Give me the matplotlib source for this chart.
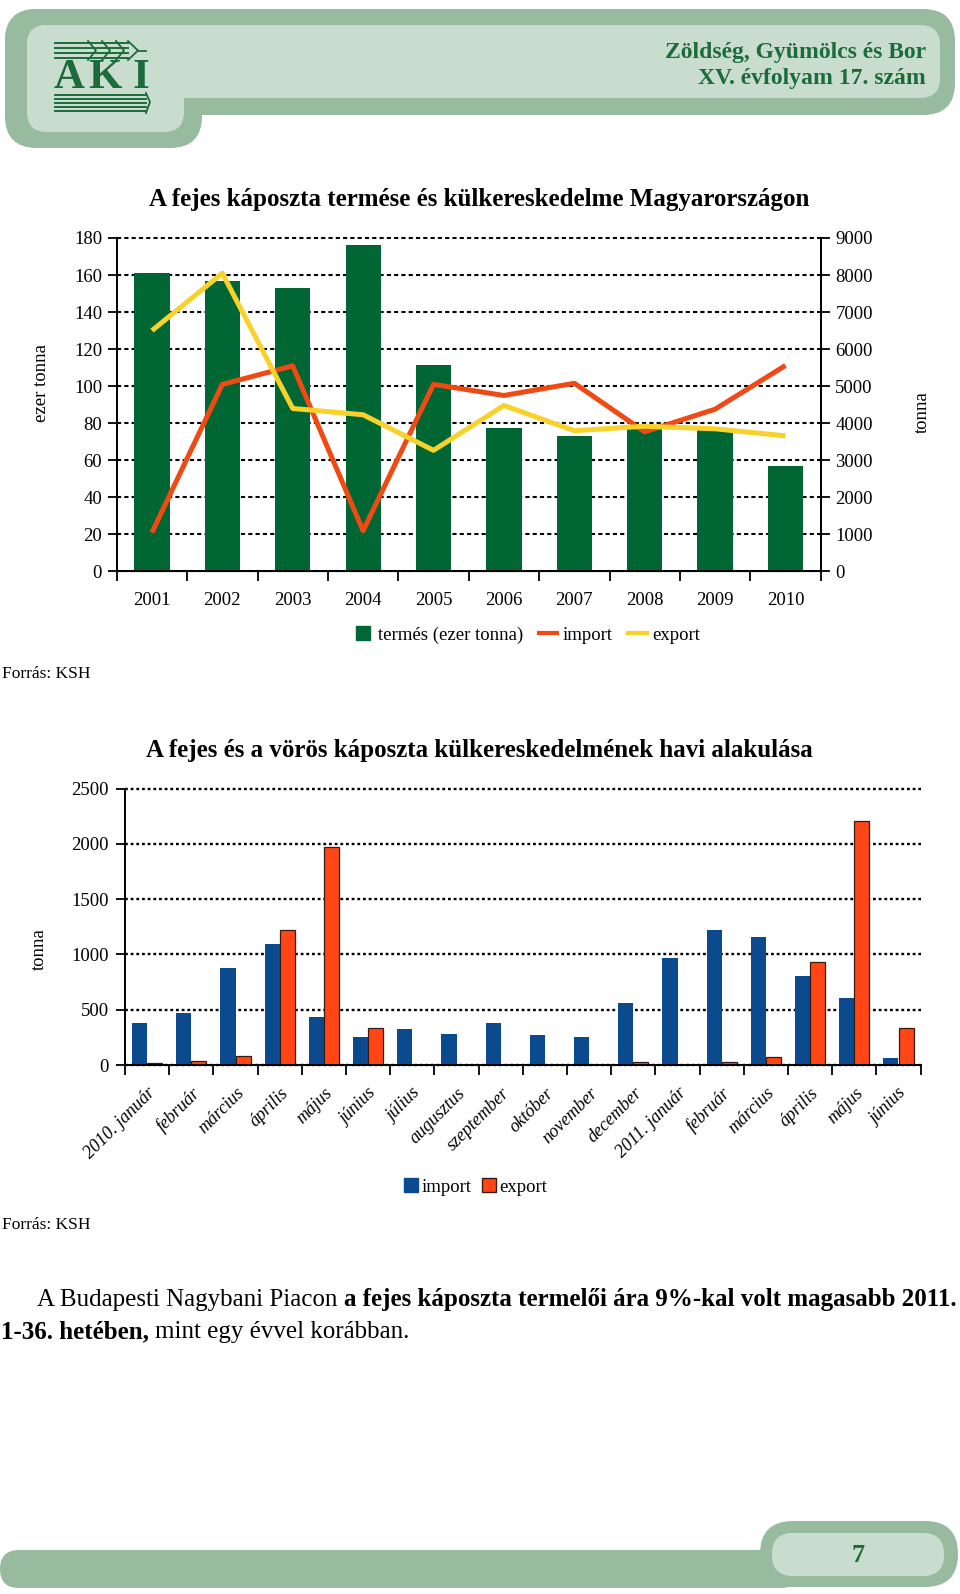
import matplotlib
matplotlib.use('Agg')
import matplotlib.pyplot as plt
from matplotlib.patches import FancyBboxPatch
from matplotlib.lines import Line2D
import numpy as np

plt.rcParams['font.family'] = ['Liberation Serif', 'DejaVu Serif']

W, H = 960, 1594

# 1. ábra: termés és külkereskedelem évente
evek = ['2001', '2002', '2003', '2004', '2005', '2006', '2007', '2008', '2009', '2010']
termes = [161, 157, 153, 176, 111.5, 77.5, 73, 78, 77, 57]          # ezer tonna
import_ev = [1050, 5050, 5550, 1100, 5050, 4750, 5080, 3770, 4380, 5560]  # tonna
export_ev = [6500, 8050, 4400, 4230, 3270, 4480, 3800, 3920, 3850, 3660]  # tonna

# 2. ábra: havi külkereskedelem
honapok = ['2010. január', 'február', 'március', 'április', 'május', 'június',
           'július', 'augusztus', 'szeptember', 'október', 'november', 'december',
           '2011. január', 'február', 'március', 'április', 'május', 'június']
havi_import = [383, 470, 880, 1093, 437, 256, 325, 283, 383, 274, 253, 557,
               970, 1223, 1154, 801, 608, 60]
havi_export = [15, 39, 81, 1220, 1967, 337, 0, 0, 3, 3, 0, 30,
               3, 30, 75, 931, 2202, 331]

# színek
ZOLD = '#006633'
PIROS = '#F04A14'
SARGA = '#F8D12B'
KEK = '#0B4A8E'
NARANCS = '#FF4614'
FEJLEC_KULSO = '#98BA9F'
FEJLEC_BELSO = '#C9DDCF'
SOTETZOLD = '#1D6B3B'

fig = plt.figure(figsize=(W / 100, H / 100), dpi=100)

# háttér-tengely pixel koordinátákkal
bg = fig.add_axes([0, 0, 1, 1])
bg.set_xlim(0, W)
bg.set_ylim(H, 0)
bg.axis('off')


def kerek(x0, y0, x1, y1, r, color):
    p = FancyBboxPatch((x0, y0), x1 - x0, y1 - y0,
                       boxstyle=f'round,pad=0,rounding_size={r}',
                       fc=color, ec='none')
    bg.add_patch(p)


def px_axes(x0, y0, x1, y1):
    return fig.add_axes([x0 / W, 1 - y1 / H, (x1 - x0) / W, (y1 - y0) / H])


# --- fejléc ---
kerek(5, 9, 955, 115, 32, FEJLEC_KULSO)
kerek(5, 9, 202, 148, 32, FEJLEC_KULSO)
kerek(27, 25, 940, 98, 20, FEJLEC_BELSO)
kerek(27, 25, 184, 132, 20, FEJLEC_BELSO)

bg.text(926, 52, 'Zöldség, Gyümölcs és Bor', ha='right', va='center',
        fontsize=17, fontweight='bold', color=SOTETZOLD)
bg.text(926, 78, 'XV. évfolyam 17. szám', ha='right', va='center',
        fontsize=17, fontweight='bold', color=SOTETZOLD)

# AKI logó (egyszerűsítve)
for yy in [43, 48, 53, 58]:
    bg.plot([55, 128], [yy, yy], color=SOTETZOLD, lw=1.4)
for xx in [88, 102, 116]:
    bg.plot([xx, xx + 8, xx], [41, 50.5, 60], color=SOTETZOLD, lw=1.3)
bg.plot([128, 138, 128], [41, 50.5, 60], color=SOTETZOLD, lw=1.3)
bg.plot([138, 146], [50.5, 50.5], color=SOTETZOLD, lw=1.3)
for xx, betu in zip([69, 105, 141], ['A', 'K', 'I']):
    bg.text(xx, 78, betu, ha='center', va='center', fontsize=31,
            color=SOTETZOLD, fontweight='bold', family='Liberation Serif')
for yy in [95, 99, 103, 107, 111]:
    bg.plot([55, 146], [yy, yy], color=SOTETZOLD, lw=1.4)
bg.plot([146, 150, 146], [93, 102, 113], color=SOTETZOLD, lw=1.3)

# --- 1. ábra ---
bg.text(479, 199, 'A fejes káposzta termése és külkereskedelme Magyarországon',
        ha='center', va='center', fontsize=18, fontweight='bold')

ax1 = px_axes(116.7, 238, 820.7, 571.5)
x1 = np.arange(len(evek))
ax1.bar(x1, termes, width=0.5, color=ZOLD, zorder=2)
ax1.set_xlim(-0.5, len(evek) - 0.5)
ax1.set_ylim(0, 180)
ax1.set_yticks(range(0, 181, 20))
ax1.yaxis.grid(True, linestyle=(0, (2, 1.5)), color='black', lw=1.5)
ax1.set_axisbelow(True)
for gl in ax1.get_ygridlines():
    gl.set_clip_on(False)
ax1.set_xticks(x1)
ax1.set_xticklabels(evek, fontsize=13.5)
ax1.set_xticks(np.arange(-0.5, len(evek)), minor=True)
ax1.tick_params(axis='x', which='major', length=0, pad=15)
ax1.tick_params(axis='x', which='minor', length=7, width=1.3, direction='out')
ax1.tick_params(axis='y', length=6.5, width=1.3, direction='out', labelsize=13.5, pad=4)
ax1.spines['top'].set_visible(False)
for s in ['left', 'bottom', 'right']:
    ax1.spines[s].set_linewidth(1.4)

ax1r = ax1.twinx()
ax1r.plot(x1, import_ev, color=PIROS, lw=3.6, zorder=3, solid_capstyle='butt')
ax1r.plot(x1, export_ev, color=SARGA, lw=3.6, zorder=3, solid_capstyle='butt')
ax1r.set_ylim(0, 9000)
ax1r.set_yticks(range(0, 9001, 1000))
ax1r.tick_params(axis='y', length=6.5, width=1.3, direction='out', labelsize=13.5, pad=4)
ax1r.spines['top'].set_visible(False)
ax1r.spines['left'].set_visible(False)
ax1r.spines['right'].set_linewidth(1.4)

bg.text(41.7, 383, 'ezer tonna', rotation=90, ha='center', va='center', fontsize=13.5)
bg.text(922, 412, 'tonna', rotation=90, ha='center', va='center', fontsize=13.5)

h1 = [Line2D([], [], marker='s', ls='none', ms=10, color=ZOLD),
      Line2D([], [], color=PIROS, lw=3),
      Line2D([], [], color=SARGA, lw=3)]
fig.legend(h1, ['termés (ezer tonna)', 'import', 'export'], loc='center',
           bbox_to_anchor=(527 / W, 1 - 635 / H), ncol=3, frameon=False,
           fontsize=13.5, handlelength=1.0, handletextpad=0.3, columnspacing=0.8)

bg.text(2, 674, 'Forrás: KSH', ha='left', va='center', fontsize=12.5)

# --- 2. ábra ---
bg.text(479, 750, 'A fejes és a vörös káposzta külkereskedelmének havi alakulása',
        ha='center', va='center', fontsize=18, fontweight='bold')

ax2 = px_axes(125, 788.5, 920.6, 1065)
x2 = np.arange(len(honapok))
ax2.bar(x2 - 0.17, havi_import, width=0.34, color=KEK, zorder=2)
ax2.bar(x2 + 0.17, havi_export, width=0.34, color=NARANCS, edgecolor='#3A1A10',
        lw=0.9, zorder=2)
ax2.set_xlim(-0.5, len(honapok) - 0.5)
ax2.set_ylim(0, 2500)
ax2.set_yticks(range(0, 2501, 500))
ax2.yaxis.grid(True, linestyle=(0, (1.2, 1.2)), color='black', lw=1.7)
ax2.set_axisbelow(True)
for gl in ax2.get_ygridlines():
    gl.set_clip_on(False)
ax2.set_xticks(x2)
ax2.set_xticklabels(honapok, fontsize=13, style='italic', rotation=45,
                    ha='right', va='top', rotation_mode='anchor')
ax2.set_xticks(np.arange(-0.5, len(honapok)), minor=True)
ax2.tick_params(axis='x', which='major', length=0, pad=14)
ax2.tick_params(axis='x', which='minor', length=7, width=1.3, direction='out')
ax2.tick_params(axis='y', length=6.5, width=1.3, direction='out', labelsize=13.5, pad=5)
for s in ['top', 'right']:
    ax2.spines[s].set_visible(False)
for s in ['left', 'bottom']:
    ax2.spines[s].set_linewidth(1.4)

bg.text(39, 949, 'tonna', rotation=90, ha='center', va='center', fontsize=13.5)

h2 = [Line2D([], [], marker='s', ls='none', ms=10, color=KEK),
      Line2D([], [], marker='s', ls='none', ms=10, color=NARANCS, mec='#3A1A10', mew=1)]
fig.legend(h2, ['import', 'export'], loc='center',
           bbox_to_anchor=(476 / W, 1 - 1187 / H), ncol=2, frameon=False,
           fontsize=13.5, handlelength=0.7, handletextpad=0.2, columnspacing=0.6)

bg.text(2, 1225, 'Forrás: KSH', ha='left', va='center', fontsize=12.5)

# --- szöveg ---
fig.canvas.draw()
rend = fig.canvas.get_renderer()


def sor(x, y, darabok, size):
    # több darabból álló sor (normál + félkövér)
    for s, fw in darabok:
        t = bg.text(x, y, s, fontsize=size, fontweight=fw, ha='left', va='baseline')
        x += t.get_window_extent(renderer=rend).width


meret = 18
sor(37, 1306, [('A Budapesti Nagybani Piacon ', 'normal'),
               ('a fejes káposzta termelői ára 9%-kal volt magasabb 2011.', 'bold')], meret)
sor(1, 1338, [('1-36. hetében, ', 'bold'),
              ('mint egy évvel korábban.', 'normal')], meret)

# --- lábléc ---
kerek(0, 1550, 800, 1588, 19, FEJLEC_KULSO)
kerek(760, 1521, 958, 1587, 33, FEJLEC_KULSO)
kerek(772, 1533, 944, 1576, 21, FEJLEC_BELSO)
bg.text(858, 1555, '7', ha='center', va='center', fontsize=19,
        fontweight='bold', color=SOTETZOLD)

fig.savefig('out.png', dpi=100)
